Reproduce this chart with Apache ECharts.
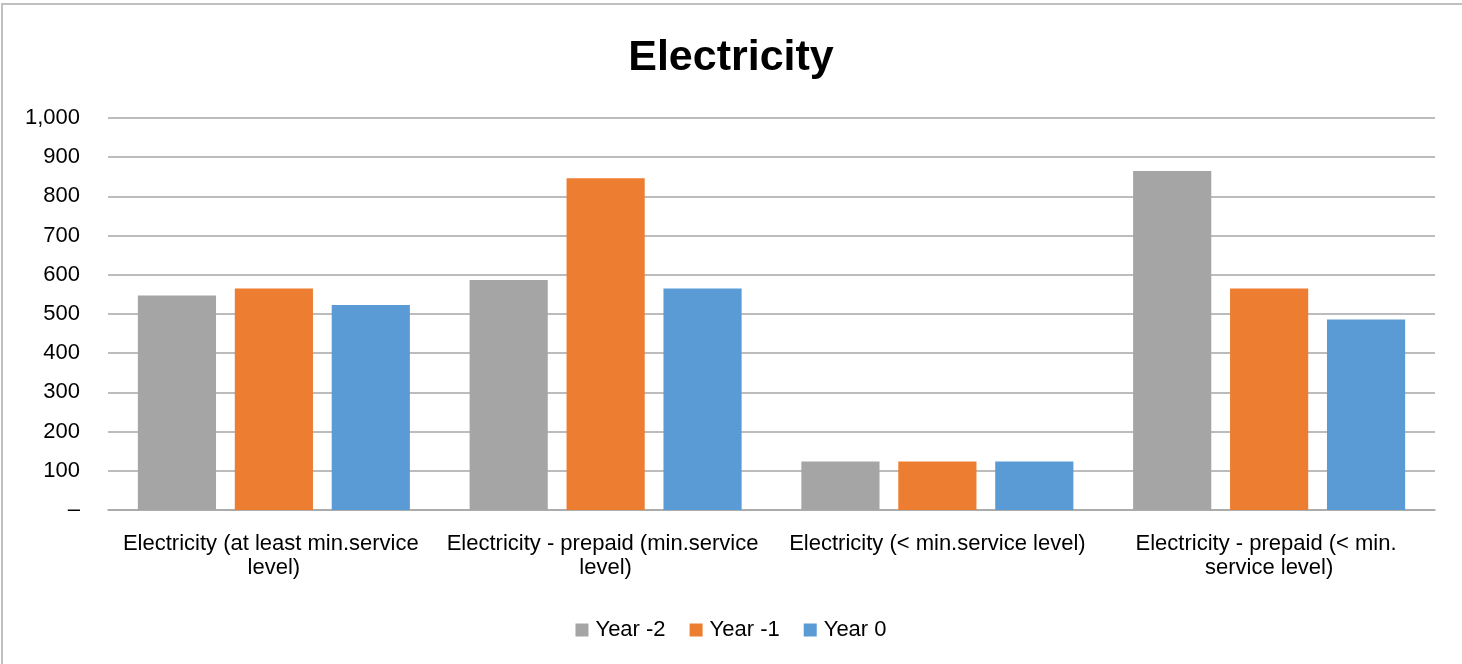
<!DOCTYPE html>
<html>
<head>
    <meta charset="utf-8">
    <title>Electricity</title>
    <script src="https://cdn.jsdelivr.net/npm/echarts@6/dist/echarts.min.js"></script>
    <style>
        html, body { margin: 0; padding: 0; background: #fff; }
        #main { position: absolute; left: 0; top: 0; width: 1462px; height: 664px; }
        #frame { position: absolute; left: 1px; top: 3px; width: 1470px; height: 700px;
                 border-top: 2px solid #c0c0c0; border-left: 2px solid #c0c0c0; pointer-events: none; }
    </style>
</head>
<body>
    <div id="main"></div>
    <div id="frame"></div>
    <script type="text/javascript">
        var categories = [
            "Electricity (at least min.service level)",
            "Electricity - prepaid (min.service level)",
            "Electricity (< min.service level)",
            "Electricity - prepaid (< min. service level)"
        ];
        var seriesNames = ["Year -2", "Year -1", "Year 0"];
        var yearMinus2 = [547, 587, 124, 865];
        var yearMinus1 = [565, 846, 124, 565];
        var year0 = [523, 565, 124, 486];
        var yTickLabels = ["–", "100", "200", "300", "400", "500", "600", "700", "800", "900", "1,000"];
        var colors = ["#A5A5A5", "#ED7D31", "#5B9BD5"];

        var font = "'Liberation Sans', Arial, sans-serif";
        var myChart = echarts.init(document.getElementById("main"));
        var option = {
            backgroundColor: "#ffffff",
            color: colors,
            title: {
                text: "Electricity",
                left: "center",
                top: 32,
                textStyle: { fontFamily: font, fontSize: 43, fontWeight: "bold", color: "#000" }
            },
            legend: {
                data: seriesNames,
                left: "center",
                top: 614,
                icon: "rect",
                itemWidth: 13,
                itemHeight: 13,
                itemGap: 24,
                itemStyle: { borderWidth: 0 },
                textStyle: { fontFamily: font, fontSize: 22, color: "#000", padding: [0, 0, 0, 2] }
            },
            grid: { left: 108, right: 27, top: 118, bottom: 154, containLabel: false },
            xAxis: {
                type: "category",
                data: categories,
                axisLine: { lineStyle: { color: "#a6a6a6", width: 1.5 } },
                axisTick: { show: false },
                axisLabel: {
                    interval: 0,
                    margin: 22,
                    width: 325,
                    overflow: "break",
                    lineHeight: 24,
                    fontFamily: font,
                    fontSize: 22,
                    color: "#000"
                }
            },
            yAxis: {
                type: "value",
                min: 0,
                max: 1000,
                interval: 100,
                axisLine: { show: false },
                axisTick: { show: false },
                splitLine: { lineStyle: { color: "#a6a6a6", width: 1.5 } },
                axisLabel: {
                    margin: 28,
                    fontFamily: font,
                    fontSize: 22,
                    color: "#000",
                    formatter: function (v) { return yTickLabels[Math.round(v / 100)]; }
                }
            },
            series: [
                { name: seriesNames[0], type: "bar", data: yearMinus2, barGap: "24%", barCategoryGap: "18%" },
                { name: seriesNames[1], type: "bar", data: yearMinus1, barGap: "24%", barCategoryGap: "18%" },
                { name: seriesNames[2], type: "bar", data: year0, barGap: "24%", barCategoryGap: "18%" }
            ]
        };
        myChart.setOption(option);
    </script>
</body>
</html>
